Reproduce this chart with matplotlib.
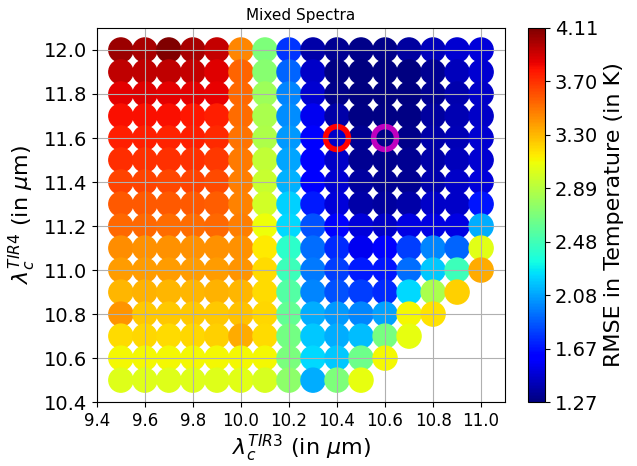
import numpy as np
import matplotlib
matplotlib.use("Agg")
import matplotlib.pyplot as plt

nan = np.nan

# centre wavelengths (um)
tir3 = [9.5, 9.6, 9.7, 9.8, 9.9, 10.0, 10.1, 10.2, 10.3, 10.4, 10.5, 10.6, 10.7, 10.8, 10.9, 11.0]
tir4 = [12.0, 11.9, 11.8, 11.7, 11.6, 11.5, 11.4, 11.3, 11.2, 11.1, 11.0, 10.9, 10.8, 10.7, 10.6, 10.5]

# RMSE (K), one row per TIR4 value, columns follow tir3
rmse = [
    [4.03, 4.00, 4.11, 4.00, 3.93, 3.45, 2.69, 1.77, 1.37, 1.32, 1.30, 1.30, 1.35, 1.42, 1.47, 1.50],
    [3.95, 3.95, 3.95, 3.93, 3.87, 3.55, 2.73, 1.90, 1.45, 1.28, 1.27, 1.27, 1.27, 1.32, 1.42, 1.47],
    [3.86, 3.87, 3.86, 3.86, 3.84, 3.54, 2.80, 1.99, 1.47, 1.30, 1.27, 1.27, 1.27, 1.32, 1.38, 1.45],
    [3.80, 3.80, 3.80, 3.78, 3.76, 3.52, 2.85, 2.02, 1.55, 1.37, 1.29, 1.28, 1.28, 1.35, 1.40, 1.45],
    [3.76, 3.76, 3.75, 3.76, 3.72, 3.50, 2.86, 2.05, 1.58, 1.45, 1.32, 1.30, 1.30, 1.37, 1.41, 1.47],
    [3.71, 3.70, 3.70, 3.70, 3.68, 3.48, 2.92, 2.08, 1.60, 1.45, 1.32, 1.31, 1.32, 1.37, 1.42, 1.47],
    [3.65, 3.65, 3.64, 3.65, 3.62, 3.47, 2.95, 2.12, 1.60, 1.47, 1.35, 1.32, 1.32, 1.38, 1.45, 1.50],
    [3.58, 3.58, 3.58, 3.58, 3.57, 3.46, 2.98, 2.21, 1.70, 1.50, 1.37, 1.35, 1.37, 1.45, 1.45, 1.68],
    [3.53, 3.53, 3.52, 3.52, 3.53, 3.47, 3.08, 2.23, 1.85, 1.60, 1.50, 1.45, 1.52, 1.52, 1.52, 2.10],
    [3.42, 3.41, 3.41, 3.41, 3.41, 3.41, 3.15, 2.41, 1.93, 1.74, 1.55, 1.60, 1.79, 1.99, 1.90, 3.04],
    [3.38, 3.38, 3.38, 3.38, 3.38, 3.40, 3.19, 2.47, 1.96, 1.79, 1.70, 1.68, 1.93, 2.18, 2.47, 3.34],
    [3.30, 3.31, 3.30, 3.30, 3.31, 3.30, 3.19, 2.55, 1.99, 1.85, 1.79, 1.74, 2.23, 2.85, 3.22, nan],
    [3.40, 3.25, 3.25, 3.25, 3.25, 3.27, 3.20, 2.60, 2.10, 2.05, 1.99, 2.07, 3.10, 3.17, nan, nan],
    [3.19, 3.20, 3.19, 3.20, 3.22, 3.34, 3.19, 2.66, 2.18, 2.10, 2.15, 2.67, 3.06, nan, nan, nan],
    [3.10, 3.10, 3.10, 3.10, 3.10, 3.10, 3.10, 2.68, 2.23, 2.18, 2.64, 3.10, nan, nan, nan, nan],
    [3.02, 3.02, 3.03, 3.02, 3.03, 3.04, 3.00, 2.75, 2.10, 2.69, 3.06, nan, nan, nan, nan, nan],
]

best = (10.4, 11.6)     # red ring
chosen = (10.6, 11.6)   # magenta ring

X, Y = np.meshgrid(tir3, tir4)
Z = np.array(rmse)
ok = ~np.isnan(Z)

vmin, vmax = 1.268, 4.106

fig = plt.figure(figsize=(6.37, 4.66), dpi=100)
ax = fig.add_axes([0.152, 0.137, 0.641, 0.803])
cax = fig.add_axes([0.829, 0.137, 0.027, 0.803])

sc = ax.scatter(X[ok], Y[ok], c=Z[ok], cmap='jet', vmin=vmin, vmax=vmax, s=300)
ax.scatter([best[0]], [best[1]], s=270, facecolors='none', edgecolors='red', linewidths=4)
ax.scatter([chosen[0]], [chosen[1]], s=270, facecolors='none', edgecolors='m', linewidths=4)

ax.set_xlim(9.4, 11.1)
ax.set_ylim(10.4, 12.1)
ax.set_xticks(np.arange(9.4, 11.01, 0.2))
ax.set_yticks(np.arange(10.4, 12.01, 0.2))
ax.tick_params(axis='x', labelsize=12)
ax.tick_params(axis='y', labelsize=14)
ax.grid(True)
ax.set_xlabel(r'$\lambda_c^{TIR3}$ (in $\mu$m)', fontsize=16, labelpad=2)
ax.set_ylabel(r'$\lambda_c^{TIR4}$ (in $\mu$m)', fontsize=16)
ax.set_title('Mixed Spectra', fontsize=11)

cb = fig.colorbar(sc, cax=cax, ticks=np.linspace(vmin, vmax, 8))
cb.ax.set_yticklabels(['%.2f' % t for t in np.linspace(vmin, vmax, 8)])
cb.ax.tick_params(labelsize=14)
cb.set_label('RMSE in Temperature (in K)', fontsize=16)

fig.savefig('out.png', dpi=100)
